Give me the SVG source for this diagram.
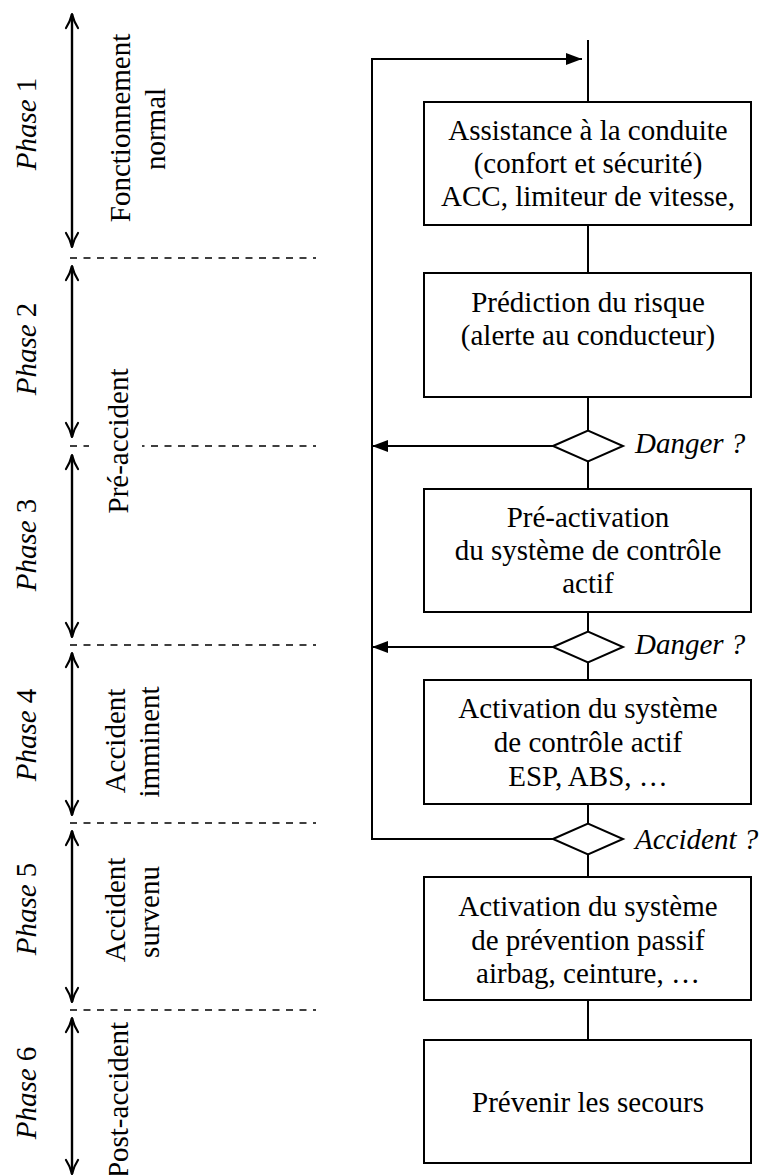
<svg xmlns="http://www.w3.org/2000/svg" width="760" height="1175" viewBox="0 0 760 1175">
<defs>
<style>
.t{font-family:'Liberation Serif',Tinos,'Times New Roman','DejaVu Serif',serif;font-size:29px;fill:#000}
.c{text-anchor:middle}
.i{font-style:italic}
.box{fill:#fff;stroke:#000;stroke-width:2}
.dia{fill:#fff;stroke:#000;stroke-width:2}
.ln{fill:none;stroke:#000;stroke-width:2}
.dash{fill:none;stroke:#000;stroke-width:1.6;stroke-dasharray:7 6.5}
.ph{fill:none;stroke:#000;stroke-width:2.4}
.hd{fill:none;stroke:#000;stroke-width:2.2;stroke-linecap:round;stroke-linejoin:round}
</style>
<marker id="tri" viewBox="0 0 16 12" refX="16" refY="6" markerWidth="16" markerHeight="12" markerUnits="userSpaceOnUse" orient="auto">
<path d="M0,0 L16,6 L0,12 Z" fill="#000"/>
</marker>
</defs>
<g class="t" font-family="Liberation Serif, serif">
<g id="phase-scale">
<g id="separators">
<line class="dash" x1="70" y1="258" x2="316" y2="258"/>
<line class="dash" x1="70" y1="446" x2="316" y2="446"/>
<line class="dash" x1="70" y1="645" x2="316" y2="645"/>
<line class="dash" x1="70" y1="823" x2="316" y2="823"/>
<line class="dash" x1="70" y1="1010" x2="316" y2="1010"/>
</g>
<g id="phase-arrows">
<line class="ph" x1="72" y1="14" x2="72" y2="247"/>
<path class="hd" d="M66,28 Q70,22 72,14 Q74,22 78,28 M66,233 Q70,239 72,247 Q74,239 78,233"/>
<line class="ph" x1="72" y1="266" x2="72" y2="437"/>
<path class="hd" d="M66,280 Q70,274 72,266 Q74,274 78,280 M66,423 Q70,429 72,437 Q74,429 78,423"/>
<line class="ph" x1="72" y1="455" x2="72" y2="637"/>
<path class="hd" d="M66,469 Q70,463 72,455 Q74,463 78,469 M66,623 Q70,629 72,637 Q74,629 78,623"/>
<line class="ph" x1="72" y1="653" x2="72" y2="815"/>
<path class="hd" d="M66,667 Q70,661 72,653 Q74,661 78,667 M66,801 Q70,807 72,815 Q74,807 78,801"/>
<line class="ph" x1="72" y1="831" x2="72" y2="1002"/>
<path class="hd" d="M66,845 Q70,839 72,831 Q74,839 78,845 M66,988 Q70,994 72,1002 Q74,994 78,988"/>
<line class="ph" x1="72" y1="1018" x2="72" y2="1174"/>
<path class="hd" d="M66,1032 Q70,1026 72,1018 Q74,1026 78,1032 M66,1160 Q70,1166 72,1174 Q74,1166 78,1160"/>
</g>
<g id="phase-labels">
<text class="c" transform="translate(36,124) rotate(-90)"><tspan class="i">Phase</tspan> 1</text>
<text class="c" transform="translate(36,349) rotate(-90)"><tspan class="i">Phase</tspan> 2</text>
<text class="c" transform="translate(36,545) rotate(-90)"><tspan class="i">Phase</tspan> 3</text>
<text class="c" transform="translate(36,735) rotate(-90)"><tspan class="i">Phase</tspan> 4</text>
<text class="c" transform="translate(36,909) rotate(-90)"><tspan class="i">Phase</tspan> 5</text>
<text class="c" transform="translate(36,1093) rotate(-90)"><tspan class="i">Phase</tspan> 6</text>
</g>
<g id="phase-descriptions">
<text class="c" transform="translate(130,128) rotate(-90)">Fonctionnement</text>
<text class="c" transform="translate(165,129) rotate(-90)">normal</text>
<rect x="89" y="364" width="53" height="154" fill="#fff"/>
<text class="c" transform="translate(128,441) rotate(-90)">Pré-accident</text>
<text class="c" transform="translate(125,741) rotate(-90)">Accident</text>
<text class="c" transform="translate(159,742) rotate(-90)">imminent</text>
<text class="c" transform="translate(125,910) rotate(-90)">Accident</text>
<text class="c" transform="translate(159,912) rotate(-90)">survenu</text>
<text class="c" transform="translate(128,1100) rotate(-90)">Post-accident</text>
</g>
</g>

<g id="connectors">
<line class="ln" x1="588" y1="40" x2="588" y2="1040"/>
<polyline class="ln" points="553,839 372,839 372,59 582,59" marker-end="url(#tri)"/>
<line class="ln" x1="553" y1="446" x2="372" y2="446" marker-end="url(#tri)"/>
<line class="ln" x1="553" y1="647" x2="372" y2="647" marker-end="url(#tri)"/>
</g>

<g id="box-assistance">
<rect class="box" x="424" y="102" width="327" height="123"/>
<text class="c" x="588" y="140">Assistance à la conduite</text>
<text class="c" x="588" y="173">(confort et sécurité)</text>
<text class="c" x="588" y="206">ACC, limiteur de vitesse,</text>
</g>
<g id="box-prediction">
<rect class="box" x="424" y="273" width="327" height="124"/>
<text class="c" x="588" y="312">Prédiction du risque</text>
<text class="c" x="588" y="345">(alerte au conducteur)</text>
</g>
<g id="decision-danger-1">
<polygon class="dia" points="553,446 588,430.5 623,446 588,461.5"/>
<text class="i" x="635" y="453">Danger ?</text>
</g>
<g id="box-preactivation">
<rect class="box" x="424" y="489" width="327" height="123"/>
<text class="c" x="588" y="527">Pré-activation</text>
<text class="c" x="588" y="560">du système de contrôle</text>
<text class="c" x="588" y="593">actif</text>
</g>
<g id="decision-danger-2">
<polygon class="dia" points="553,647 588,631.5 623,647 588,662.5"/>
<text class="i" x="635" y="654">Danger ?</text>
</g>
<g id="box-activation-actif">
<rect class="box" x="424" y="680" width="327" height="124"/>
<text class="c" x="588" y="718">Activation du système</text>
<text class="c" x="588" y="752">de contrôle actif</text>
<text class="c" x="588" y="786">ESP, ABS, …</text>
</g>
<g id="decision-accident">
<polygon class="dia" points="553,839 588,823.5 623,839 588,854.5"/>
<text class="i" x="635" y="849">Accident ?</text>
</g>
<g id="box-activation-passif">
<rect class="box" x="424" y="877" width="327" height="123"/>
<text class="c" x="588" y="916">Activation du système</text>
<text class="c" x="588" y="950">de prévention passif</text>
<text class="c" x="588" y="983">airbag, ceinture, …</text>
</g>
<g id="box-secours">
<rect class="box" x="424" y="1040" width="327" height="123"/>
<text class="c" x="588" y="1112">Prévenir les secours</text>
</g>
</g>
</svg>
